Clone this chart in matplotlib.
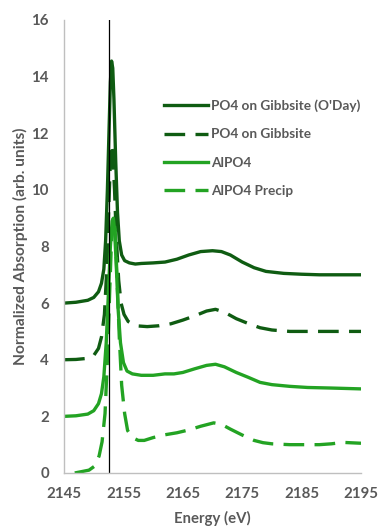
import matplotlib.pyplot as plt
import numpy as np

# data
e_oday = [2145, 2147, 2149, 2150, 2150.8, 2151.3, 2151.7, 2152.0, 2152.3, 2152.6, 2152.8, 2153.0,
          2153.2, 2153.4, 2153.7, 2154.0, 2154.3, 2154.7, 2155.2, 2156, 2157, 2158, 2160, 2162,
          2164, 2166, 2168, 2170, 2171.5, 2173, 2175, 2177, 2179, 2182, 2185, 2188, 2191, 2195]
v_oday = [6.0, 6.03, 6.1, 6.2, 6.4, 6.7, 7.2, 8.2, 10.0, 12.3, 13.8, 14.55,
          14.3, 13.2, 11.0, 9.2, 8.2, 7.7, 7.5, 7.42, 7.38, 7.4, 7.42, 7.45,
          7.55, 7.7, 7.82, 7.85, 7.82, 7.7, 7.45, 7.25, 7.12, 7.05, 7.02, 7.0, 7.0, 7.0]

e_gibb = [2145, 2147, 2149, 2150, 2150.8, 2151.3, 2151.8, 2152.2, 2152.5, 2152.8, 2153.0, 2153.2,
          2153.5, 2153.8, 2154.2, 2154.6, 2155.1, 2155.8, 2157, 2159, 2161, 2163, 2165, 2167,
          2169, 2170.5, 2172, 2174, 2176, 2178, 2180, 2183, 2186, 2190, 2195]
v_gibb = [4.0, 4.01, 4.05, 4.15, 4.4, 4.8, 5.6, 7.2, 9.2, 11.0, 11.6, 11.3,
          10.0, 8.3, 6.8, 6.0, 5.6, 5.35, 5.2, 5.17, 5.2, 5.27, 5.4, 5.55,
          5.72, 5.78, 5.68, 5.45, 5.28, 5.13, 5.05, 5.0, 5.0, 5.0, 5.0]

e_alpo4 = [2145, 2147, 2149, 2150, 2150.8, 2151.3, 2151.7, 2152.1, 2152.5, 2152.8, 2153.1, 2153.3,
           2153.5, 2153.8, 2154.1, 2154.5, 2155, 2155.6, 2156.5, 2158, 2160, 2162, 2163.5, 2165,
           2167, 2169, 2170.5, 2172, 2174, 2176, 2178, 2180, 2183, 2186, 2190, 2195]
v_alpo4 = [2.0, 2.02, 2.08, 2.2, 2.45, 2.8, 3.4, 4.6, 6.5, 8.0, 8.9, 9.0,
           8.6, 7.3, 5.8, 4.6, 3.9, 3.6, 3.5, 3.45, 3.45, 3.5, 3.5, 3.55,
           3.68, 3.8, 3.84, 3.75, 3.55, 3.38, 3.2, 3.12, 3.06, 3.02, 3.0, 2.97]

e_prec = [2146.8, 2148, 2149.2, 2150.2, 2150.9, 2151.4, 2151.9, 2152.3, 2152.7, 2153.0, 2153.3, 2153.6,
          2153.9, 2154.3, 2154.7, 2155.2, 2155.7, 2156.5, 2157.5, 2158.5, 2160, 2162, 2164, 2166,
          2168, 2170.2, 2171.5, 2173, 2175, 2177, 2178.5, 2180, 2183, 2186, 2188, 2190, 2192, 2195]
v_prec = [0.0, 0.05, 0.1, 0.25, 0.6, 1.1, 2.1, 4.0, 6.5, 8.3, 9.0, 8.6,
          7.0, 4.8, 3.1, 2.1, 1.5, 1.25, 1.15, 1.15, 1.25, 1.35, 1.42, 1.52,
          1.65, 1.77, 1.72, 1.55, 1.34, 1.15, 1.07, 1.03, 1.0, 1.0, 1.0, 1.03, 1.08, 1.05]

edge_energy = 2152.6

dark = '#0f5c12'
light = '#23a323'
gray = '#595959'

plt.rcParams['font.family'] = ['Lato', 'DejaVu Sans']
plt.rcParams['font.weight'] = 'bold'

fig = plt.figure(figsize=(3.79, 5.26), dpi=100)
ax = fig.add_axes([0.169, 0.1008, 0.7835, 0.8612])

ax.plot(e_oday, v_oday, color=dark, lw=2.4, label='PO4 on Gibbsite (O\'Day)')
ax.plot(e_gibb, v_gibb, color=dark, lw=2.4, dashes=(6.2, 3.1), label='PO4 on Gibbsite')
ax.plot(e_alpo4, v_alpo4, color=light, lw=2.4, label='AlPO4')
ax.plot(e_prec, v_prec, color=light, lw=2.4, dashes=(6.2, 3.1), label='AlPO4 Precip')
ax.plot([edge_energy, edge_energy], [0, 16], color='black', lw=0.9)

ax.set_xlim(2145, 2195)
ax.set_ylim(0, 16)
ax.set_xticks(np.arange(2145, 2196, 10))
ax.set_yticks(np.arange(0, 17, 2))
ax.tick_params(length=0, labelsize=10.8, labelcolor=gray)
ax.tick_params(axis='x', pad=10)
ax.tick_params(axis='y', pad=11)
for s in ['top', 'right']:
    ax.spines[s].set_visible(False)
for s in ['left', 'bottom']:
    ax.spines[s].set_color('#bfbfbf')
    ax.spines[s].set_linewidth(1)

ax.set_xlabel('Energy (eV)', fontsize=10.7, color=gray, fontweight='bold', labelpad=7)
ax.set_ylabel('Normalized Absorption (arb. units)', fontsize=11.2, color=gray,
              fontweight='bold', labelpad=2)

leg = ax.legend(loc='upper left', bbox_to_anchor=(0.296, 0.852), frameon=False,
                fontsize=9.8, handlelength=3.2, handletextpad=0.25, labelspacing=1.2)
for t in leg.get_texts():
    t.set_color(gray)

plt.savefig('out.png', dpi=100)
